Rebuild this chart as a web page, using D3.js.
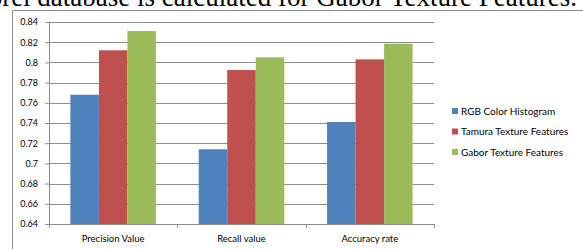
<!DOCTYPE html>
<html>
<head>
<meta charset="utf-8">
<script src="https://cdn.jsdelivr.net/npm/d3@7"></script>
<style>
  body { margin: 0; background: #fff; }
  svg { display: block; }
</style>
</head>
<body>
<div id="chart"></div>
<script>
// chart data
var categories = ["Precision Value", "Recall value", "Accuracy rate"];
var seriesNames = ["RGB Color Histogram", "Tamura Texture Features", "Gabor Texture Features"];
var rgbValues = [0.768, 0.714, 0.741];
var tamuraValues = [0.812, 0.7925, 0.803];
var gaborValues = [0.831, 0.805, 0.8185];
var yTicks = [0.64, 0.66, 0.68, 0.7, 0.72, 0.74, 0.76, 0.78, 0.8, 0.82, 0.84];
var colors = ["#4f81bd", "#c0504d", "#9bbb59"];

var seriesValues = [rgbValues, tamuraValues, gaborValues];

var W = 583, H = 249;
var margin = {top: 22, left: 49, right: 149, bottom: 25};
var width = W - margin.left - margin.right,
    height = H - margin.top - margin.bottom;

var svg = d3.select("#chart")
    .append("svg")
    .attr("width", W)
    .attr("height", H);

// caption text from the page above the chart (clipped at the top)
svg.append("text")
    .attr("x", 577)
    .attr("y", 6)
    .attr("text-anchor", "end")
    .style("font-family", "'Liberation Serif', 'Times New Roman', serif")
    .style("font-size", "27px")
    .style("fill", "#000")
    .text("Corel database is calculated for Gabor Texture Features.");

// chart frame
svg.append("path")
    .attr("d", "M12.5," + (H + 5) + "V10.5H" + (W + 5))
    .attr("fill", "none")
    .attr("stroke", "#8c8c8c")
    .attr("stroke-width", 1);

var g = svg.append("g")
    .attr("transform", "translate(" + margin.left + "," + margin.top + ")");

// scales
var x0 = d3.scaleBand().domain(categories).range([0, width]);
var x1 = d3.scaleBand().domain(d3.range(seriesNames.length))
    .range([0, x0.bandwidth()])
    .paddingOuter(0.75);
var y = d3.scaleLinear().domain([0.64, 0.84]).range([height, 0]);

// gridlines
g.selectAll(".grid")
    .data(yTicks)
    .enter().append("line")
    .attr("class", "grid")
    .attr("x1", 0)
    .attr("x2", width)
    .attr("y1", function(d) { return Math.round(y(d)) + 0.5; })
    .attr("y2", function(d) { return Math.round(y(d)) + 0.5; })
    .attr("stroke", "#8e8e8e")
    .attr("stroke-width", 1);

// bars
var groups = g.selectAll(".cat")
    .data(categories)
    .enter().append("g")
    .attr("class", "cat")
    .attr("transform", function(d) { return "translate(" + x0(d) + ",0)"; });

groups.selectAll("rect")
    .data(function(d, i) {
        return seriesValues.map(function(vals, s) { return {s: s, v: vals[i]}; });
    })
    .enter().append("rect")
    .attr("x", function(d) { return x1(d.s); })
    .attr("width", x1.bandwidth())
    .attr("y", function(d) { return y(d.v); })
    .attr("height", function(d) { return height - y(d.v); })
    .attr("fill", function(d) { return colors[d.s]; });

// y axis
var yAxis = g.append("g")
    .attr("class", "axis y-axis")
    .call(d3.axisLeft(y).tickValues(yTicks).tickSize(4).tickPadding(7)
        .tickFormat(function(d) { return d3.format("")(+d.toFixed(2)); }));
yAxis.select(".domain").attr("stroke", "#8c8c8c");
yAxis.selectAll(".tick line").attr("stroke", "#8c8c8c");
yAxis.selectAll("text")
    .style("font-family", "Lato, 'Open Sans', sans-serif")
    .style("font-size", "9px")
    .style("fill", "#000");

// x axis
var xAxis = g.append("g")
    .attr("class", "axis x-axis")
    .attr("transform", "translate(0," + height + ")")
    .call(d3.axisBottom(x0).tickSize(0).tickPadding(11));
xAxis.select(".domain").attr("stroke", "#8c8c8c");
xAxis.selectAll("text")
    .style("font-family", "Lato, 'Open Sans', sans-serif")
    .style("font-size", "9.5px")
    .style("fill", "#000");
// category separators
xAxis.selectAll(".sep")
    .data(d3.range(categories.length + 1))
    .enter().append("line")
    .attr("class", "sep")
    .attr("x1", function(i) { return Math.round(i * x0.step()) + 0.5; })
    .attr("x2", function(i) { return Math.round(i * x0.step()) + 0.5; })
    .attr("y1", 0)
    .attr("y2", 4)
    .attr("stroke", "#8c8c8c");

// legend
var legend = svg.append("g")
    .attr("transform", "translate(452,111)");
var items = legend.selectAll(".item")
    .data(seriesNames)
    .enter().append("g")
    .attr("class", "item")
    .attr("transform", function(d, i) { return "translate(0," + i * 20.5 + ")"; });
items.append("rect")
    .attr("x", 0)
    .attr("y", -3)
    .attr("width", 6)
    .attr("height", 6)
    .attr("fill", function(d, i) { return colors[i]; });
items.append("text")
    .attr("x", 9)
    .attr("y", 0)
    .attr("dy", "0.35em")
    .style("font-family", "Lato, 'Open Sans', sans-serif")
    .style("font-size", "10px")
    .style("fill", "#000")
    .text(function(d) { return d; });
</script>
</body>
</html>
